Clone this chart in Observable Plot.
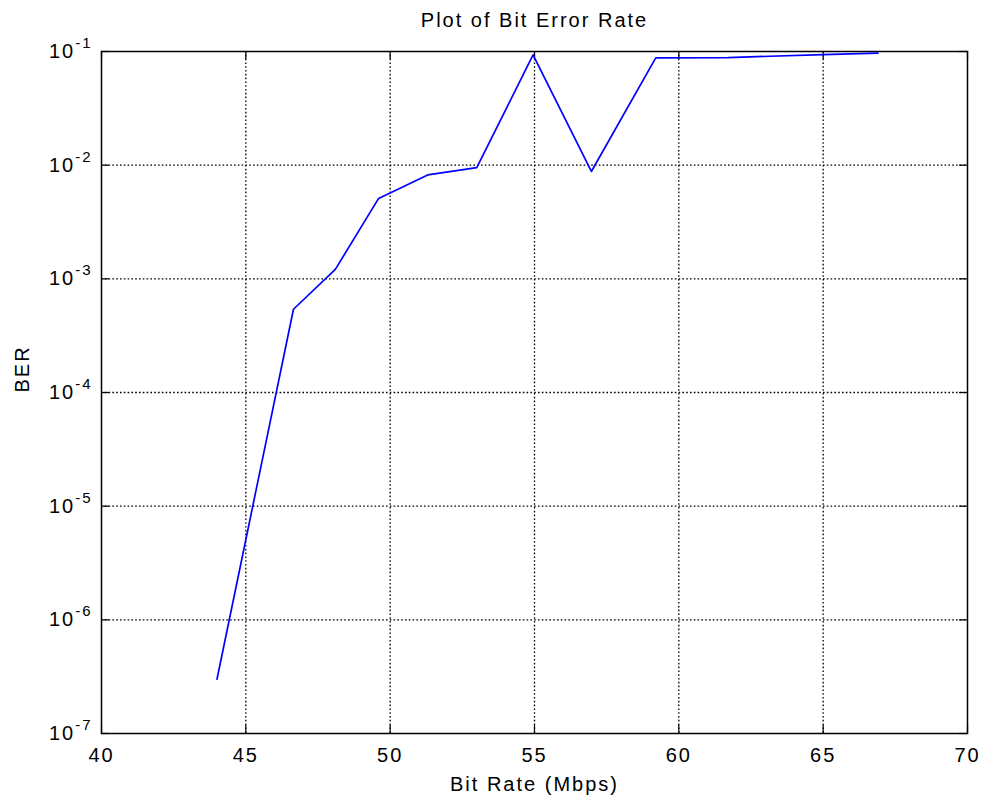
<!DOCTYPE html>
<html>
<head>
<meta charset="utf-8">
<script src="https://cdn.jsdelivr.net/npm/d3@7"></script>
<script src="https://cdn.jsdelivr.net/npm/@observablehq/plot@0.6"></script>
<style>
  html, body { margin: 0; padding: 0; background: #fff; }
  #chart svg { display: block; }
</style>
</head>
<body>
<div id="chart"></div>
<script>
const bitRate = [44.0, 46.65, 48.1, 49.6, 51.3, 53.0, 54.95, 56.97, 59.2, 61.7, 65.0, 66.9];
const ber = [3.0e-7, 5.4e-4, 1.21e-3, 5.1e-3, 8.2e-3, 9.5e-3, 0.0935, 8.8e-3, 0.0879, 0.0885, 0.0937, 0.0966];
const xTicks = [40, 45, 50, 55, 60, 65, 70];
const yExponents = [-7, -6, -5, -4, -3, -2, -1];
const yTicks = yExponents.map(e => Math.pow(10, e));
const titleText = "Plot of Bit Error Rate";
const xLabel = "Bit Rate (Mbps)";
const yLabel = "BER";

const data = bitRate.map((x, i) => ({x, y: ber[i]}));

const W = 984, H = 805;
const mL = 101, mT = 51, mR = 17, mB = 72;
const innerH = H - mT - mB;
const innerW = W - mL - mR;
const tickLen = 8;

const chart = Plot.plot({
  width: W,
  height: H,
  marginLeft: mL,
  marginTop: mT,
  marginRight: mR,
  marginBottom: mB,
  style: {fontFamily: "'Liberation Sans', Arial, sans-serif", fontSize: "20px", color: "black", background: "white", letterSpacing: "2px"},
  x: {domain: [40, 70]},
  y: {type: "log", domain: [1e-7, 1e-1]},
  marks: [
    // grid
    Plot.ruleX(xTicks.slice(1, -1), {stroke: "black", strokeWidth: 1.3, strokeDasharray: "1.6,2.2", strokeOpacity: 1}),
    Plot.ruleY(yTicks.slice(1, -1), {stroke: "black", strokeWidth: 1.3, strokeDasharray: "1.6,2.2", strokeOpacity: 1}),
    // inward ticks
    Plot.ruleX(xTicks, {stroke: "black", strokeWidth: 1.2, insetTop: innerH - tickLen}),
    Plot.ruleX(xTicks, {stroke: "black", strokeWidth: 1.2, insetBottom: innerH - tickLen}),
    Plot.ruleY(yTicks, {stroke: "black", strokeWidth: 1.2, insetRight: innerW - tickLen}),
    Plot.ruleY(yTicks, {stroke: "black", strokeWidth: 1.2, insetLeft: innerW - tickLen}),
    Plot.frame({stroke: "black", strokeWidth: 1.5}),
    Plot.axisX(xTicks, {tickSize: 0, tickPadding: 14, fontSize: 20, label: null, fill: "black"}),
    Plot.axisY(yTicks, {tickSize: 0, tickPadding: 9, fontSize: 20, label: null, fill: "black",
      tickFormat: d => String(Math.round(Math.log10(d)))}),
    Plot.line(data, {x: "x", y: "y", stroke: "#0000ff", strokeWidth: 1.7}),
    Plot.text([titleText], {frameAnchor: "top", dy: -25, lineAnchor: "bottom", fontSize: 20, fill: "black"}),
    Plot.text([xLabel], {frameAnchor: "bottom", dy: 57, lineAnchor: "bottom", fontSize: 20, fill: "black"}),
    Plot.text([yLabel], {frameAnchor: "left", dx: -73, rotate: -90, lineAnchor: "bottom", fontSize: 20, fill: "black"})
  ]
});

// Render y tick labels as 10 with superscript exponent
d3.select(chart).selectAll('g[aria-label="y-axis tick label"] text').each(function() {
  const t = d3.select(this);
  const exp = t.text();
  t.text(null);
  t.append("tspan").text("10");
  t.append("tspan").attr("dy", "-0.65em").attr("font-size", "15px").text(exp);
});

document.getElementById("chart").appendChild(chart);
</script>
</body>
</html>
